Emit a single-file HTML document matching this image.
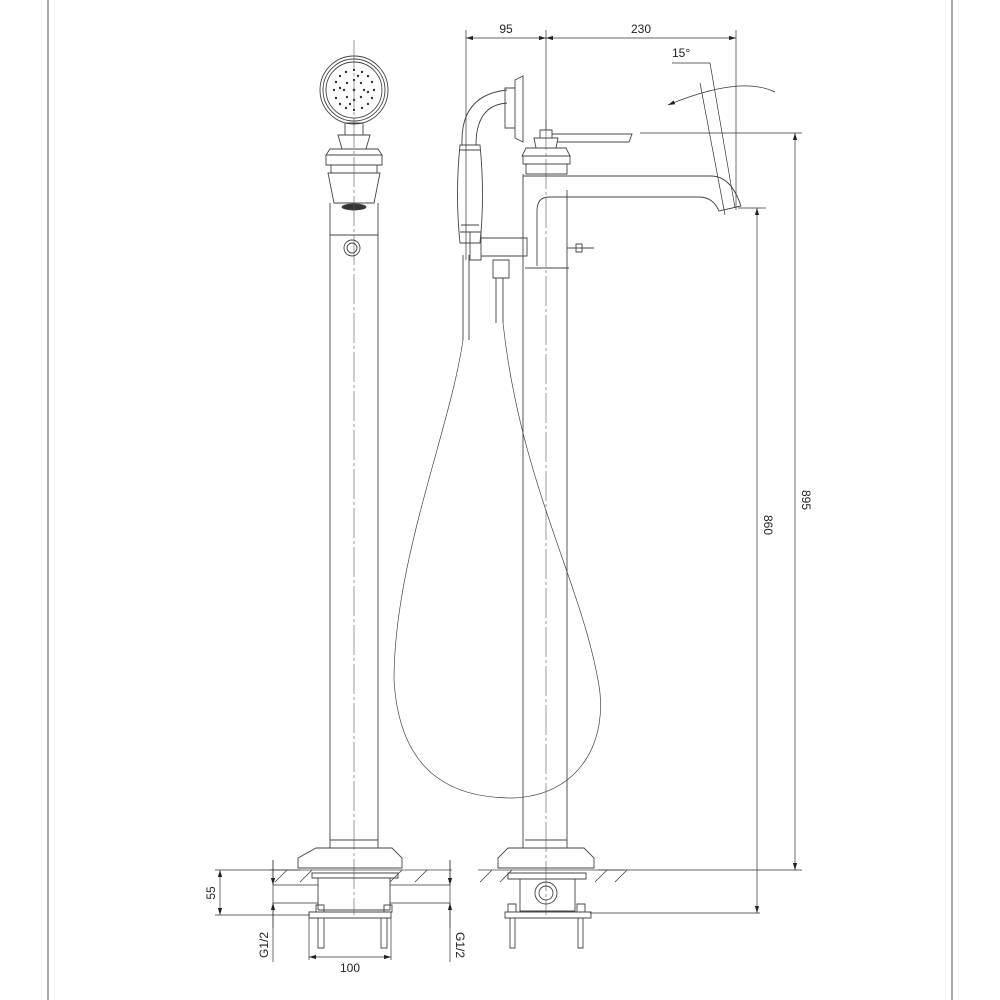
<!DOCTYPE html>
<html><head><style>html,body{margin:0;padding:0;background:#fff}svg{display:block}text{font-family:"Liberation Sans",sans-serif;font-size:12px;fill:#222}</style></head>
<body>
<svg width="1000" height="1000" viewBox="0 0 1000 1000" xmlns="http://www.w3.org/2000/svg">
<defs><marker id="a" viewBox="0 0 10 6" refX="10" refY="3" markerWidth="10" markerHeight="6" orient="auto-start-reverse"><path d="M0,0L10,3L0,6z" fill="#222"/></marker></defs>
<g stroke="#555" stroke-width="1" fill="none">
<line x1="48" y1="0" x2="48" y2="1000"/><line x1="952" y1="0" x2="952" y2="1000"/>
</g>
<g stroke="#444" stroke-width="0.9" fill="none">
<circle cx="354" cy="90" r="34"/><circle cx="354" cy="90" r="31"/><circle cx="354" cy="90" r="28"/>
<path d="M345,123h18v12h-18z"/>
<path d="M338,135h32l-4,14h-24z"/>
<path d="M330,149h48l4,6h-56z"/>
<path d="M326,155h56v10h-56z"/>
<path d="M331,165h46v8h-46z"/>
<path d="M328,173h52l-6,30h-40z"/>
<path d="M330,203v645M378,203v645"/>
<ellipse cx="354" cy="207" rx="12" ry="3" fill="#333"/>
<circle cx="352" cy="248" r="8"/><circle cx="352" cy="248" r="5"/>
<path d="M330,235h48"/>
<path d="M330,840h48M316,848h76l10,10v10h-104v-10z"/>
<path d="M312,873h86v5h-86zM318,878v32M390,878v32M318,910h72"/>
<path d="M309,912h82v6h-82zM318,918v30h6v-30M381,918v30h6v-30"/>
<path d="M316,905h8v7h-8zM384,905h8v7h-8z"/>
</g>
<g fill="#333"><circle cx="354" cy="90" r="1.3"/>
<circle cx="354" cy="80" r="1.2"/><circle cx="364" cy="90" r="1.2"/><circle cx="354" cy="100" r="1.2"/><circle cx="344" cy="90" r="1.2"/>
<circle cx="361" cy="83" r="1.2"/><circle cx="347" cy="97" r="1.2"/><circle cx="361" cy="97" r="1.2"/><circle cx="347" cy="83" r="1.2"/>
<circle cx="354" cy="70" r="1.2"/><circle cx="374" cy="90" r="1.2"/><circle cx="354" cy="110" r="1.2"/><circle cx="334" cy="90" r="1.2"/>
<circle cx="368" cy="76" r="1.2"/><circle cx="340" cy="104" r="1.2"/><circle cx="368" cy="104" r="1.2"/><circle cx="340" cy="76" r="1.2"/>
<circle cx="362" cy="72" r="1.2"/><circle cx="346" cy="72" r="1.2"/><circle cx="362" cy="108" r="1.2"/><circle cx="346" cy="108" r="1.2"/>
<circle cx="372" cy="82" r="1.2"/><circle cx="372" cy="98" r="1.2"/><circle cx="336" cy="82" r="1.2"/><circle cx="336" cy="98" r="1.2"/>
<circle cx="358" cy="76" r="1.2"/><circle cx="350" cy="104" r="1.2"/><circle cx="368" cy="92" r="1.2"/><circle cx="340" cy="88" r="1.2"/>
</g>
<g stroke="#555" stroke-width="0.6" stroke-dasharray="30,3,3,3" fill="none">
<line x1="354" y1="40" x2="354" y2="915"/><line x1="546" y1="120" x2="546" y2="915"/>
</g>
<g stroke="#444" stroke-width="0.9" fill="none">
<path d="M540,130h12v8h-12zM534,138h24l-2,10h-20zM526,148h40l4,8h-48zM523,156h47v8h-47zM526,164h41v10h-41z"/>
<path d="M552,134h80l-3,8h-72"/>
<path d="M523,174v674M567,190v658"/>
<path d="M523,176h188q20,0 30,30l-22,5q-6,-14 -20,-14h-150q-12,0 -12,14v55"/>
<path d="M525,268h44"/>
<path d="M567,248h14M576,244h6v8h-6zM580,248h14"/>
<path d="M481,238h46v18h-46zM470,232h11v28h-11z"/>
<path d="M493,260h16v18h-16z"/>
<path d="M496,278v45M503,278v45"/>
<path d="M463,255v85M469,255v85"/>
<path d="M460,145q-5,50 0,98h20q5,-48 0,-98z"/>
<path d="M460,150h20M461,225h18M460,232h20"/>
<path d="M462,145q-2,-50 45,-55M476,145q0,-40 31,-42"/>
<path d="M505,88h10v40h-10z M515,80l8,-4v66l-8,-4z"/>
<path d="M525,840h42M508,848h76l10,10v10h-96v-10z"/>
<path d="M508,873h78v6h-78zM520,879h55v32h-55z"/>
<circle cx="546" cy="893" r="11"/><circle cx="546" cy="893" r="7"/>
<path d="M505,912h86v6h-86zM510,918v30h5v-30M578,918v30h5v-30M508,904h8v8h-8zM577,904h8v8h-8z"/>
<path d="M463,340C450,430 394,560 394,680C400,780 460,798 512,798C580,796 610,740 598,680C580,580 520,480 503,323" stroke-width="0.7"/>
</g>
<g stroke="#444" stroke-width="0.8" fill="none">
<path d="M270,870h182M478,870h147"/>
<path d="M275,882l12,-12M300,882l12,-12M390,882l12,-12M415,882l12,-12M480,882l12,-12M500,882l12,-12M595,882l12,-12M615,882l12,-12"/>
</g>
<g stroke="#333" stroke-width="0.7" fill="none">
<path d="M466,30v230M546,30v100M736,30v180"/>
<line x1="466" y1="38" x2="546" y2="38" marker-start="url(#a)" marker-end="url(#a)"/>
<line x1="546" y1="38" x2="736" y2="38" marker-start="url(#a)" marker-end="url(#a)"/>
<path d="M672,63h38l25,145"/>
<path d="M700,83l25,132"/>
<path d="M668,105Q740,75 775,92" marker-start="url(#a)"/>
<line x1="640" y1="133" x2="802" y2="133"/>
<line x1="738" y1="208" x2="766" y2="208"/>
<line x1="590" y1="913" x2="760" y2="913"/>
<line x1="598" y1="870" x2="802" y2="870"/>
<line x1="795" y1="133" x2="795" y2="870" marker-start="url(#a)" marker-end="url(#a)"/>
<line x1="757" y1="208" x2="757" y2="913" marker-start="url(#a)" marker-end="url(#a)"/>
<line x1="215" y1="870" x2="300" y2="870"/><line x1="215" y1="915" x2="310" y2="915"/>
<line x1="220" y1="870" x2="220" y2="915" marker-start="url(#a)" marker-end="url(#a)"/>
<line x1="273" y1="860" x2="273" y2="962"/><line x1="450" y1="860" x2="450" y2="962"/>
<path d="M273,885h45M273,903h45M390,885h60M390,903h60"/>
<line x1="273" y1="860" x2="273" y2="885" marker-end="url(#a)"/>
<line x1="273" y1="928" x2="273" y2="903" marker-end="url(#a)"/>
<line x1="450" y1="860" x2="450" y2="885" marker-end="url(#a)"/>
<line x1="450" y1="928" x2="450" y2="903" marker-end="url(#a)"/>
<path d="M309,918v42M391,918v42"/>
<line x1="309" y1="957" x2="391" y2="957" marker-start="url(#a)" marker-end="url(#a)"/>
</g>
<text x="506" y="33" text-anchor="middle">95</text>
<text x="641" y="33" text-anchor="middle">230</text>
<text x="672" y="57">15°</text>
<text x="350" y="972" text-anchor="middle">100</text>
<text transform="translate(215,893) rotate(-90)" text-anchor="middle">55</text>
<text transform="translate(268,945) rotate(-90)" text-anchor="middle">G1/2</text>
<text transform="translate(456,945) rotate(90)" text-anchor="middle">G1/2</text>
<text transform="translate(764,525) rotate(90)" text-anchor="middle">860</text>
<text transform="translate(802,500) rotate(90)" text-anchor="middle">895</text>
</svg>
</body></html>
